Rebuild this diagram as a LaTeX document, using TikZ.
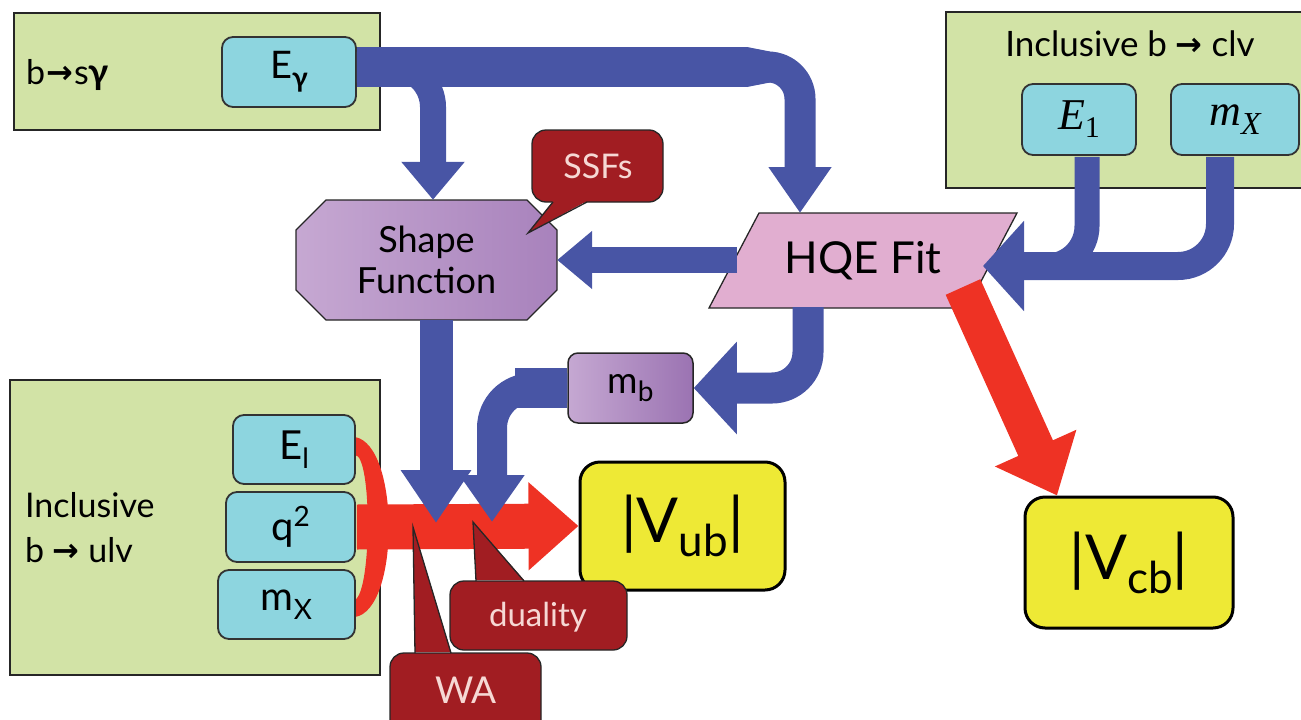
\documentclass[tikz,border=0pt]{standalone}
\usepackage{fontspec}
\setmainfont{Lato}
\newfontfamily\tnr{Liberation Serif}
\newfontfamily\dvs{DejaVu Sans}
\usetikzlibrary{arrows.meta}
\definecolor{pgreen}{HTML}{D2E3A6}
\definecolor{pcyan}{HTML}{8DD5DF}
\definecolor{pblue}{HTML}{4855A5}
\definecolor{pred}{HTML}{EE3224}
\definecolor{pdred}{HTML}{A11D22}
\definecolor{pyellow}{HTML}{EEE935}
\definecolor{ppink}{HTML}{E1AED0}
\definecolor{psfl}{HTML}{C6A8D2}
\definecolor{psfr}{HTML}{A882BC}
\definecolor{pmbl}{HTML}{C5A8D2}
\definecolor{pmbr}{HTML}{9B73B2}
\definecolor{ptext}{HTML}{F6D8D4}
\newcommand\fsz[1]{\fontsize{#1}{#1}\selectfont}
\newcommand\arr[1]{\raisebox{1pt}{\dvs\bfseries\fsz{#1}→}}
\begin{document}
\begin{tikzpicture}[x=1pt,y=-1pt,
  panel/.style={draw=black!85,line width=1.3,fill=pgreen,inner sep=0},
  cbox/.style={draw=black!80,line width=1.8,fill=pcyan,rounded corners=11,inner sep=0},
  ybox/.style={draw=black,line width=3,fill=pyellow,rounded corners=20,inner sep=0},
  bl/.style={draw=pblue,line width=#1},
  rd/.style={draw=pred,line width=#1},
  callout/.style={fill=pdred,draw=black!85,line width=1.3,rounded corners=14},
  cfill/.style={fill=pdred},
  cedge/.style={draw=black!85,line width=1.3},
  ctext/.style={text=ptext,inner sep=0},
]
\useasboundingbox (0,0) rectangle (1301,720);
\clip (0,0) rectangle (1301,720);

% panels
\node[panel,minimum width=366,minimum height=117] (pA) at (197,71.5) {};
\node[panel,minimum width=364,minimum height=176] (pB) at (1128,100) {};
\node[panel,minimum width=370,minimum height=295] (pC) at (195,527.5) {};

\node[anchor=west,inner sep=0] (lA) at (26,75) {\fsz{34}b\kern1pt\arr{32}\kern1pt s\textbf{\fsz{36}γ}};
\node[inner sep=0] (lB) at (1130,44) {\fsz{35}Inclusive b \arr{32} clv};
\node[anchor=west,inner sep=0,align=left,font=\fontsize{34}{45}\selectfont] (lC) at (25,528) {Inclusive\\b \arr{32} ulv};

% red bracket
\fill[pred] (355,437) .. controls (400,445) and (400,610) .. (355,617) -- (355,600) .. controls (372,590) and (372,455) .. (355,455) -- cycle;

% cyan nodes
\node[cbox,minimum width=134,minimum height=70] (Eg) at (289,72) {\fsz{38}E\raisebox{-9pt}{\fsz{28}\textbf{γ}}};
\node[cbox,minimum width=114,minimum height=71] (E1) at (1079,119.5) {{\tnr\itshape\fsz{44}E}\raisebox{-8pt}{\tnr\fsz{30}1}};
\node[cbox,minimum width=128,minimum height=71] (mXr) at (1235,119.5) {{\tnr\itshape\fsz{44}m}\raisebox{-9pt}{\tnr\itshape\fsz{32}X}};
\node[cbox,minimum width=122,minimum height=69] (El) at (294,449.5) {\fsz{40}E\raisebox{-9pt}{\fsz{28}l}};
\node[cbox,minimum width=129,minimum height=70] (q2) at (290.5,527) {\fsz{40}q\raisebox{14pt}{\fsz{28}2}};
\node[cbox,minimum width=137,minimum height=69] (mXl) at (286.5,604.5) {\fsz{40}m\raisebox{-9pt}{\fsz{28}X}};

% shape function
\path[left color=psfl,right color=psfr,draw=black!85,line width=1.3]
  (326,200) -- (527,200) -- (557,230) -- (557,290) -- (527,320) -- (326,320) -- (296,290) -- (296,230) -- cycle;
\node[align=center,font=\fontsize{36}{41}\selectfont,minimum width=261,minimum height=120,inner sep=0] (sf) at (426.5,260) {Shape\\Function};

% m_b
\node[draw=black!85,line width=1.5,rounded corners=10,left color=pmbl,right color=pmbr,minimum width=125,minimum height=70,inner sep=0] (mb) at (630.5,388) {\fsz{37}m\raisebox{-8pt}{\fsz{28}b}};

% HQE fit
\filldraw[fill=ppink,draw=black!85,line width=1.3] (759,213) -- (1017,213) -- (967,308) -- (709,308) -- cycle;
\node[font=\fsz{44},minimum width=258,minimum height=95,inner sep=0] (hqe) at (863,260.5) {HQE Fit};

% results
\node[ybox,minimum width=205,minimum height=128] (Vub) at (682.5,526) {\fsz{62}|V\raisebox{-14pt}{\fsz{44}ub}|};
\node[ybox,minimum width=208,minimum height=131] (Vcb) at (1129,562.5) {\fsz{62}|V\raisebox{-14pt}{\fsz{44}cb}|};

% coordinates
\coordinate (hqetop) at (800,213);
\coordinate (hqebot) at (808,307);
\coordinate (hqeleft) at (737,260);
\coordinate (hqeright) at (983,266);
\coordinate (hqecorner) at (963,287);
\coordinate (j1) at (436,523);
\coordinate (j2) at (492,522);
\coordinate (mrg) at (1015,266);

% red arrow to Vub
\draw[rd=45,-{Triangle[length=50pt,width=85pt]}] ([xshift=1pt]q2.east) -- (Vub.west);

% blue arrows
\draw[bl=40] ([yshift=5pt]Eg.east) -- (748,67);
\fill[pblue] (747,47) -- (770,51.5) -- (770,82.5) -- (747,87) -- cycle;
\draw[bl=31,rounded corners=32,-{Triangle[length=46pt,width=60pt]}] ([yshift=5pt]Eg.east) -| (hqetop);
\draw[bl=26,rounded corners=40,-{Triangle[length=38pt,width=61pt]}] ([xshift=30pt,yshift=5pt]Eg.east) -| ([xshift=6.5pt]sf.north);
\draw[bl=33,-{Triangle[length=53pt,width=67pt]}] ([xshift=9.5pt]sf.south) -- (j1);
\draw[bl=40] (mb.west) -- (515,388);
\fill[pblue] (516,368) -- (533,373) -- (533,403) -- (516,408) -- cycle;
\draw[bl=30,rounded corners=40,-{Triangle[length=47pt,width=62pt]}] (mb.west) -| (j2);
\draw[bl=31,rounded corners=36,-{Triangle[length=43pt,width=90pt]}] (hqebot) |- (mb.east);
\draw[bl=26,-{Triangle[length=35pt,width=56pt]}] (hqeleft) -- (sf.east);
\draw[bl=25,rounded corners=40] ([xshift=8pt,yshift=-1pt]E1.south) |- (mrg);
\draw[bl=28,rounded corners=42,-{Triangle[length=41pt,width=88pt]}] ([xshift=-15pt,yshift=-1pt]mXr.south) |- (hqeright);

% red arrow to Vcb
\draw[rd=38,-{Triangle[length=52pt,width=86pt]}] (hqecorner) -- ([xshift=-72pt]Vcb.north);

% callouts
\draw[callout] (532,130) rectangle (663,202);
\fill[cfill] (553,201) -- (528,233) -- (587,201) -- cycle;
\draw[cedge] (553,202) -- (528,233) -- (587,202);
\node[ctext,font=\fsz{34}] (ssf) at (598,166) {SSFs};

\draw[callout] (390,653) rectangle (541,745);
\fill[cfill] (415,652) -- (413,527) -- (451,652) -- cycle;
\draw[cedge] (415,653) -- (413,527) -- (451,653);
\node[ctext,font=\fsz{37}] (wa) at (466,690) {WA};

\draw[callout] (450,581) rectangle (627,650);
\fill[cfill] (476,580) -- (473,522) -- (524,580) -- cycle;
\draw[cedge] (476,581) -- (473,522) -- (524,581);
\node[ctext,font=\fsz{33}] (dual) at (538,617) {duality};
\end{tikzpicture}
\end{document}
